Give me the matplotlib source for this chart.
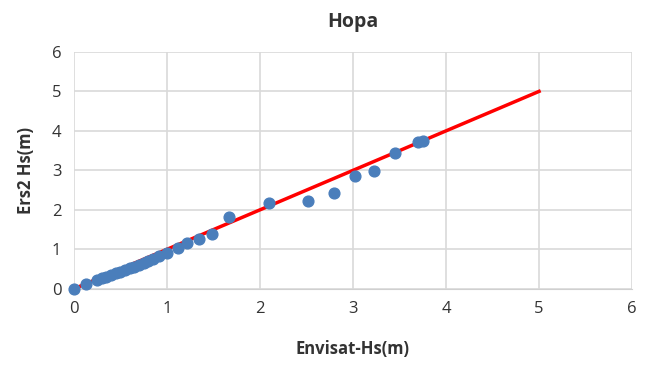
import matplotlib
matplotlib.use("Agg")
import matplotlib.pyplot as plt

# scatter values
envisat_hs = [0.0, 0.13, 0.25, 0.3, 0.35, 0.4, 0.45, 0.5, 0.55, 0.6, 0.65, 0.7,
              0.75, 0.8, 0.85, 0.92, 1.0, 1.12, 1.22, 1.35, 1.48, 1.67, 2.1,
              2.52, 2.8, 3.02, 3.23, 3.45, 3.7, 3.75]
ers2_hs = [0.0, 0.12, 0.22, 0.27, 0.31, 0.35, 0.39, 0.44, 0.48, 0.52, 0.56, 0.61,
           0.66, 0.71, 0.76, 0.82, 0.92, 1.04, 1.15, 1.27, 1.4, 1.83, 2.17,
           2.23, 2.43, 2.85, 2.98, 3.45, 3.72, 3.75]
fit_x = [0, 5]
fit_y = [0, 5]

plt.rcParams['font.family'] = ['Open Sans', 'DejaVu Sans']

fig = plt.figure(figsize=(6.53, 3.68), dpi=100)
ax = fig.add_axes([0.113, 0.215, 0.855, 0.644])

ax.plot(fit_x, fit_y, color='#ff0000', linewidth=2.5, zorder=2)
ax.scatter(envisat_hs, ers2_hs, s=60, color='#4a7ebb', zorder=3, clip_on=False)

ax.set_xlim(0, 6)
ax.set_ylim(0, 6)
ax.set_xticks(range(7))
ax.set_yticks(range(7))
ax.grid(True, color='#d9d9d9', linewidth=1.2)
ax.set_axisbelow(True)
for side in ['top', 'right', 'left']:
    ax.spines[side].set_visible(False)
ax.spines['bottom'].set_color('#d0d0d0')
ax.tick_params(length=0, labelsize=12, colors='#333333', pad=9)

ax.set_title('Hopa', fontsize=14, fontweight='bold', color='#333333', pad=18)
ax.set_xlabel('Envisat-Hs(m)', fontsize=12, fontweight='bold', color='#333333', labelpad=16)
ax.set_ylabel('Ers2 Hs(m)', fontsize=12, fontweight='bold', color='#333333', labelpad=12)

fig.savefig('out.png', dpi=100)
